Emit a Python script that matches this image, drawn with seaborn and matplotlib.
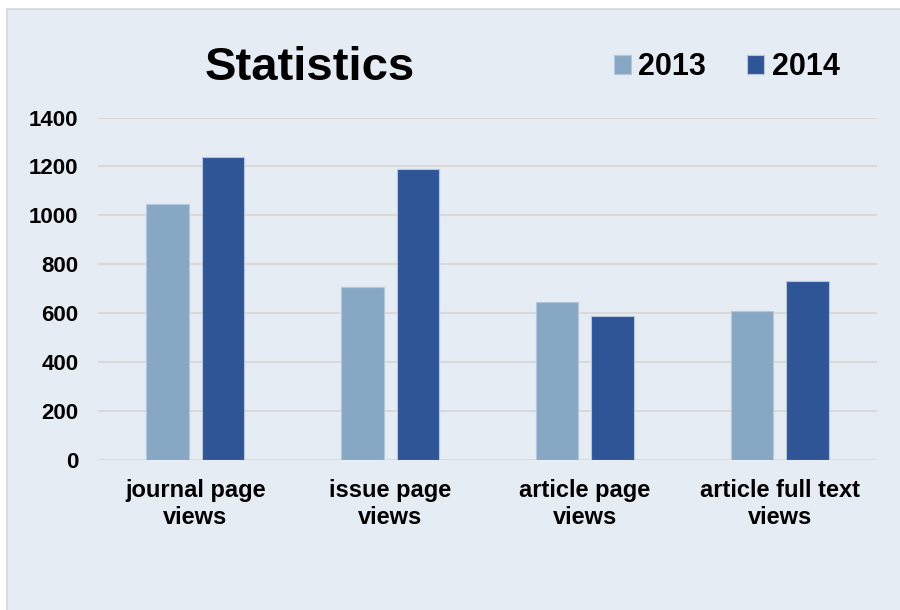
import numpy as np
import pandas as pd
import seaborn as sns
import matplotlib.pyplot as plt
from matplotlib.patches import Rectangle

# 데이터
categories = ['journal page\nviews', 'issue page\nviews', 'article page\nviews', 'article full text\nviews']
years = ['2013', '2014']
views_2013 = [1045, 706, 645, 609]
views_2014 = [1237, 1188, 590, 730]
yticks = [0, 200, 400, 600, 800, 1000, 1200, 1400]

df = pd.DataFrame({
    'category': categories * 2,
    'year': [years[0]] * 4 + [years[1]] * 4,
    'views': views_2013 + views_2014,
})

bg = '#E6ECF3'
colors = {'2013': '#87A8C4', '2014': '#2F5597'}

sns.set_style('white')
plt.rcParams['font.family'] = ['Liberation Sans', 'DejaVu Sans']
plt.rcParams['text.color'] = 'black'
plt.rcParams['xtick.color'] = 'black'
plt.rcParams['ytick.color'] = 'black'

fig = plt.figure(figsize=(9, 6.1), dpi=100)
fig.patch.set_facecolor('white')
# 차트 영역 배경 박스
fig.patches.append(Rectangle((7 / 900, -0.05), 1.0, 1 - 9 / 610 + 0.05,
                             transform=fig.transFigure, facecolor=bg,
                             edgecolor='#D4D8DC', linewidth=1.2, zorder=-10))

ax = fig.add_axes([98 / 900, 1 - 460 / 610, (877 - 98) / 900, (460 - 117.5) / 610])
ax.set_facecolor(bg)

sns.barplot(data=df, x='category', y='views', hue='year', palette=colors,
            saturation=1, width=0.57, gap=0.23, ax=ax, edgecolor='#B4C7DA',
            linewidth=0.8, legend=True)

ax.set_ylim(0, 1400)
ax.set_xlim(-0.5, 3.5)
ax.set_yticks(yticks)
ax.set_yticklabels([str(t) for t in yticks], fontsize=16, fontweight='bold')
ax.set_xticks(range(4))
ax.set_xticklabels(categories, fontsize=17, fontweight='bold', linespacing=1.22)
ax.tick_params(axis='both', length=0)
ax.tick_params(axis='y', pad=14)
ax.tick_params(axis='x', pad=14)
ax.yaxis.grid(True, color='#D9D9D9', linewidth=1.5)
ax.set_axisbelow(True)
for s in ax.spines.values():
    s.set_visible(False)
ax.set_xlabel('')
ax.set_ylabel('')

handles, labels = ax.get_legend_handles_labels()
ax.legend_.remove()
fig.legend(handles, labels, loc='center left', bbox_to_anchor=(586 / 900, 1 - 67 / 610),
           ncol=2, frameon=False, prop={'size': 22, 'weight': 'bold'},
           handlelength=0.56, handleheight=0.56, handletextpad=0.25,
           columnspacing=1.35)

fig.text(310 / 900, 1 - 68 / 610, 'Statistics', fontsize=34, fontweight='bold',
         ha='center', va='center')

plt.savefig('out.png', dpi=100, facecolor=fig.get_facecolor())
